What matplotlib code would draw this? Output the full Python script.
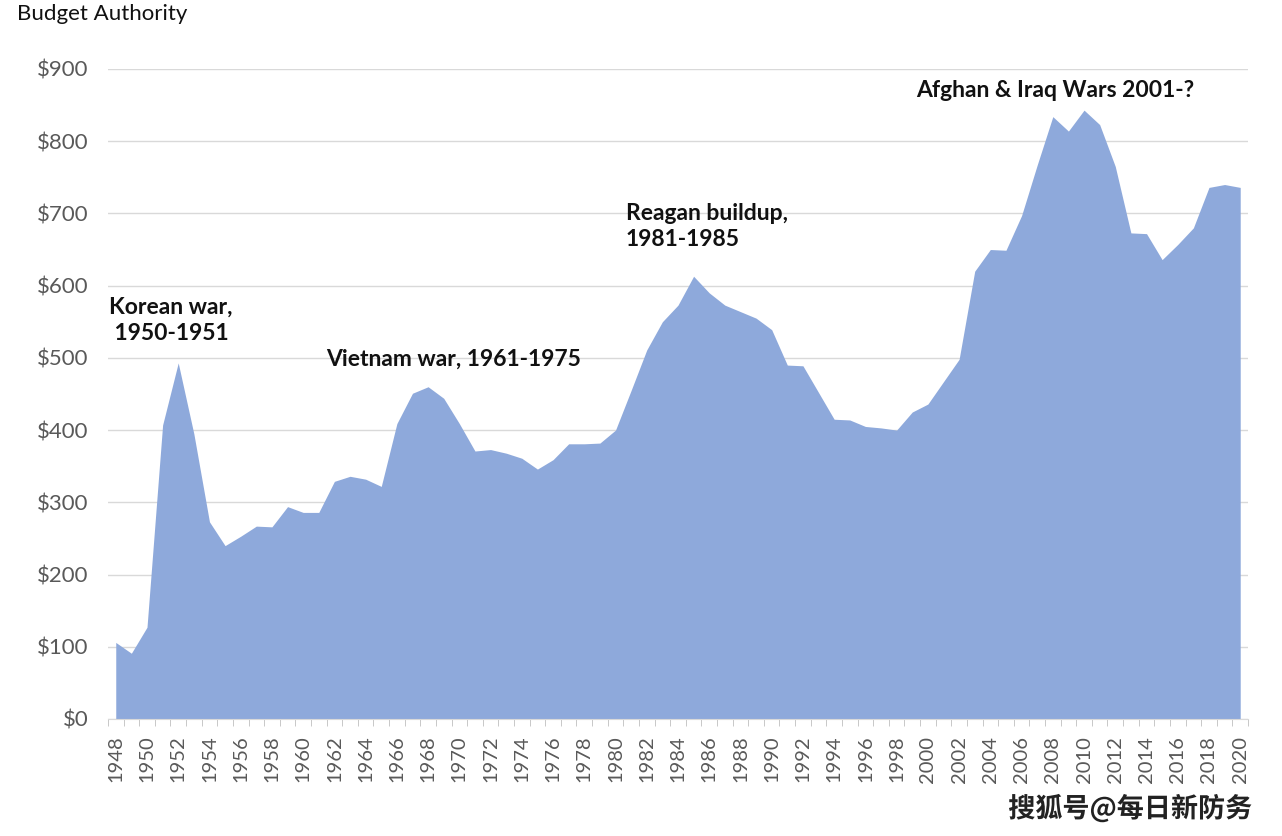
import matplotlib.pyplot as plt
import matplotlib.patheffects as pe
from matplotlib.ticker import FuncFormatter

years = list(range(1948, 2021))
budget = [106, 91, 127, 407, 493, 395, 273, 240, 253, 267,
          266, 294, 286, 286, 329, 336, 332, 322, 409, 451,
          460, 444, 409, 371, 373, 368, 361, 346, 359, 381,
          381, 382, 400, 455, 511, 550, 573, 613, 590, 573,
          564, 555, 539, 490, 489, 452, 415, 414, 405, 403,
          400, 425, 436, 467, 498, 620, 650, 649, 697, 767,
          834, 814, 843, 823, 765, 673, 672, 636, 657, 680,
          736, 740, 736]

notes = ["Korean war,\n 1950-1951", "Vietnam war, 1961-1975",
         "Reagan buildup,\n1981-1985", "Afghan & Iraq Wars 2001-?"]
note_pos = [(1947.55, 585, 'top'), (1961.5, 498, 'center'),
            (1980.67, 714, 'top'), (1999.25, 870, 'center')]

plt.rcParams['font.family'] = ['Lato', 'DejaVu Sans']

fig = plt.figure(figsize=(12.82, 8.36), dpi=100)
ax = fig.add_axes([0.0842, 0.14, 0.8893, 0.7775])

ax.fill_between(years, budget, 0, color='#8EA9DB', linewidth=0, zorder=2)

ax.set_xlim(1947.5, 2020.5)
ax.set_ylim(0, 900)
ax.set_yticks(range(0, 901, 100))
ax.yaxis.set_major_formatter(FuncFormatter(lambda v, p: f'${v:.0f}'))
ax.grid(axis='y', color='#d9d9d9', linewidth=1, zorder=0)
ax.set_axisbelow(True)

ax.set_xticks(years[::2])
ax.set_xticklabels([str(y) for y in years[::2]], rotation=90)
ax.set_xticks([y - 0.5 for y in years] + [2020.5], minor=True)
ax.tick_params(axis='x', which='major', length=0, pad=12, labelsize=14.5, labelcolor='#595959')
ax.tick_params(axis='x', which='minor', length=5, color='#bfbfbf')
ax.tick_params(axis='y', length=0, pad=14, labelsize=16, labelcolor='#595959')

for s in ['top', 'right', 'left']:
    ax.spines[s].set_visible(False)
ax.spines['bottom'].set_color('#d9d9d9')

for txt, (x, y, va) in zip(notes, note_pos):
    ax.text(x, y, txt, ha='left', va=va, fontsize=16.5, fontweight='bold',
            color='#111111', linespacing=1.3, zorder=3)

fig.text(0.013, 0.983, 'Budget Authority', ha='left', va='center',
         fontsize=16, color='#111111')

fig.text(0.977, 0.033, '搜狐号@每日新防务', ha='right', va='center',
         fontsize=19.5, fontweight='bold', color='#222222',
         family=['Noto Sans CJK SC', 'DejaVu Sans'],
         path_effects=[pe.withStroke(linewidth=1.5, foreground='white')])

fig.savefig('out.png', dpi=100, facecolor='white')
